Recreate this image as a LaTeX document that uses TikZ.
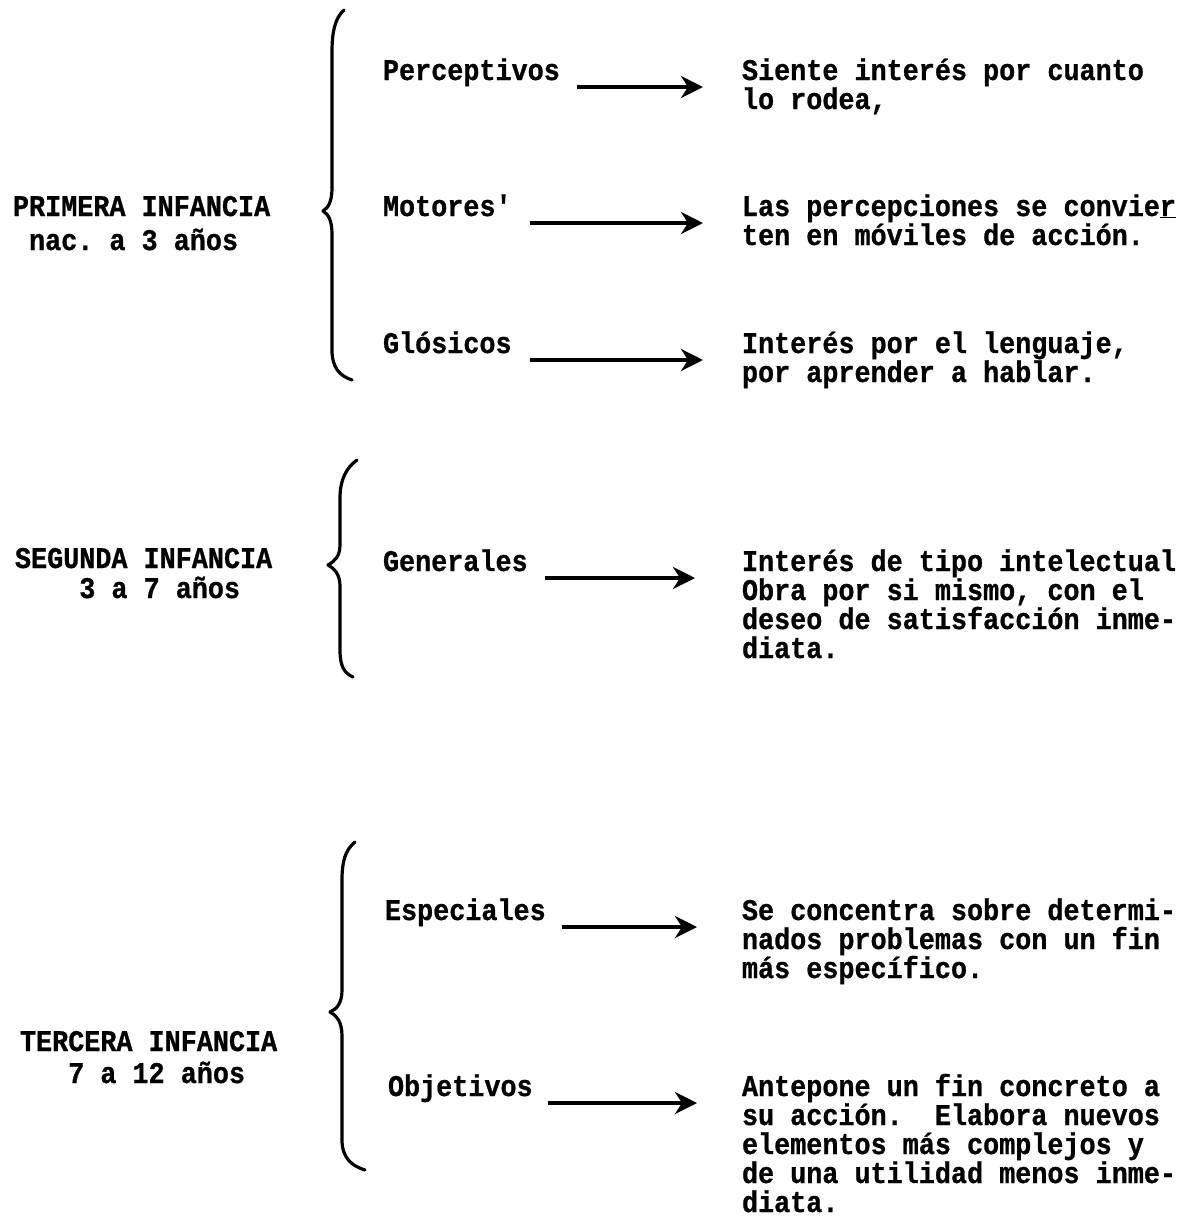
\documentclass[tikz,border=0pt]{standalone}
\usepackage{fontspec}
\setmainfont{Liberation Mono}[BoldFeatures={FakeStretch=0.893,FakeBold=0.8}]
\usetikzlibrary{arrows.meta}
\newcommand\tlines[2]{\vtop{\baselineskip=#1\relax\lineskiplimit=-20pt\halign{##\hfil\cr#2\crcr}}}
\newcommand\ind[1]{\hphantom{#1}}
\begin{document}
\begin{tikzpicture}[x=1pt,y=-1pt,
  txt/.style={anchor=base west,inner sep=0pt,outer sep=0pt,font=\fontsize{30pt}{29pt}\selectfont\bfseries\frenchspacing},
  arr/.style={line width=4pt,-{Stealth[length=22pt,width=22pt,inset=7pt]}},
  bracestyle/.style={line width=3.2pt,line cap=round,line join=round}]
\useasboundingbox (0,0) rectangle (1193,1224);

% left labels
\node[txt] (p1) at (13,216) {\tlines{34pt}{PRIMERA INFANCIA\cr \ind{n}nac. a 3 años}};
\node[txt] (p2) at (15,568) {\tlines{30pt}{SEGUNDA INFANCIA\cr \ind{nnnn}3 a 7 años}};
\node[txt] (p3) at (20,1051) {\tlines{32pt}{TERCERA INFANCIA\cr \ind{nnn}7 a 12 años}};

% braces
\draw[bracestyle] (344,10) .. controls (335,18) and (332,32) .. (332,52) -- (332,188)
  .. controls (332,202) and (328,208) .. (323,211)
  .. controls (328,214) and (332,220) .. (332,234) -- (332,350)
  .. controls (332,368) and (340,376) .. (352,380);
\draw[bracestyle] (357,460) .. controls (346,468) and (340,480) .. (340,498) -- (340,545)
  .. controls (340,556) and (335,561) .. (328,565)
  .. controls (335,569) and (340,575) .. (340,586) -- (340,650)
  .. controls (340,666) and (344,673) .. (353,677);
\draw[bracestyle] (355,842) .. controls (345,850) and (342,862) .. (342,880) -- (342,990)
  .. controls (342,1003) and (337,1009) .. (330,1012)
  .. controls (337,1016) and (342,1022) .. (342,1036) -- (342,1140)
  .. controls (342,1158) and (352,1166) .. (365,1170);

% middle labels
\node[txt] (m1) at (383,80) {Perceptivos};
\node[txt] (m2) at (383,216) {Motores\textquotesingle};
\node[txt] (m3) at (383,353) {Glósicos};
\node[txt] (m4) at (383,571) {Generales};
\node[txt] (m5) at (385,920) {Especiales};
\node[txt] (m6) at (388,1096) {Objetivos};

% right texts
\node[txt] (r1) at (742,80) {\tlines{29pt}{Siente interés por cuanto\cr lo rodea,}};
\node[txt] (r2) at (742,216) {\tlines{29pt}{Las percepciones se convie\underline{r}\cr ten en móviles de acción.}};
\node[txt] (r3) at (742,353) {\tlines{29pt}{Interés por el lenguaje,\cr por aprender a hablar.}};
\node[txt] (r4) at (742,571) {\tlines{29pt}{Interés de tipo intelectual\cr Obra por si mismo, con el\cr deseo de satisfacción inme-\cr diata.}};
\node[txt] (r5) at (742,920) {\tlines{29pt}{Se concentra sobre determi-\cr nados problemas con un fin\cr más específico.}};
\node[txt] (r6) at (742,1096) {\tlines{29pt}{Antepone un fin concreto a\cr su acción.\ \ Elabora nuevos\cr elementos más complejos y\cr de una utilidad menos inme-\cr diata.}};

% arrows
\draw[arr] ([shift={(17,7)}]m1.base east) -- ([shift={(-39,7)}]r1.base west);
\draw[arr] ([shift={(16,7)}]m2.base east) -- ([shift={(-39,7)}]r2.base west);
\draw[arr] ([shift={(18,7)}]m3.base east) -- ([shift={(-39,7)}]r3.base west);
\draw[arr] ([shift={(17,7)}]m4.base east) -- ([shift={(-47,7)}]r4.base west);
\draw[arr] ([shift={(16,7)}]m5.base east) -- ([shift={(-45,7)}]r5.base west);
\draw[arr] ([shift={(15,7)}]m6.base east) -- ([shift={(-45,7)}]r6.base west);
\end{tikzpicture}
\end{document}
